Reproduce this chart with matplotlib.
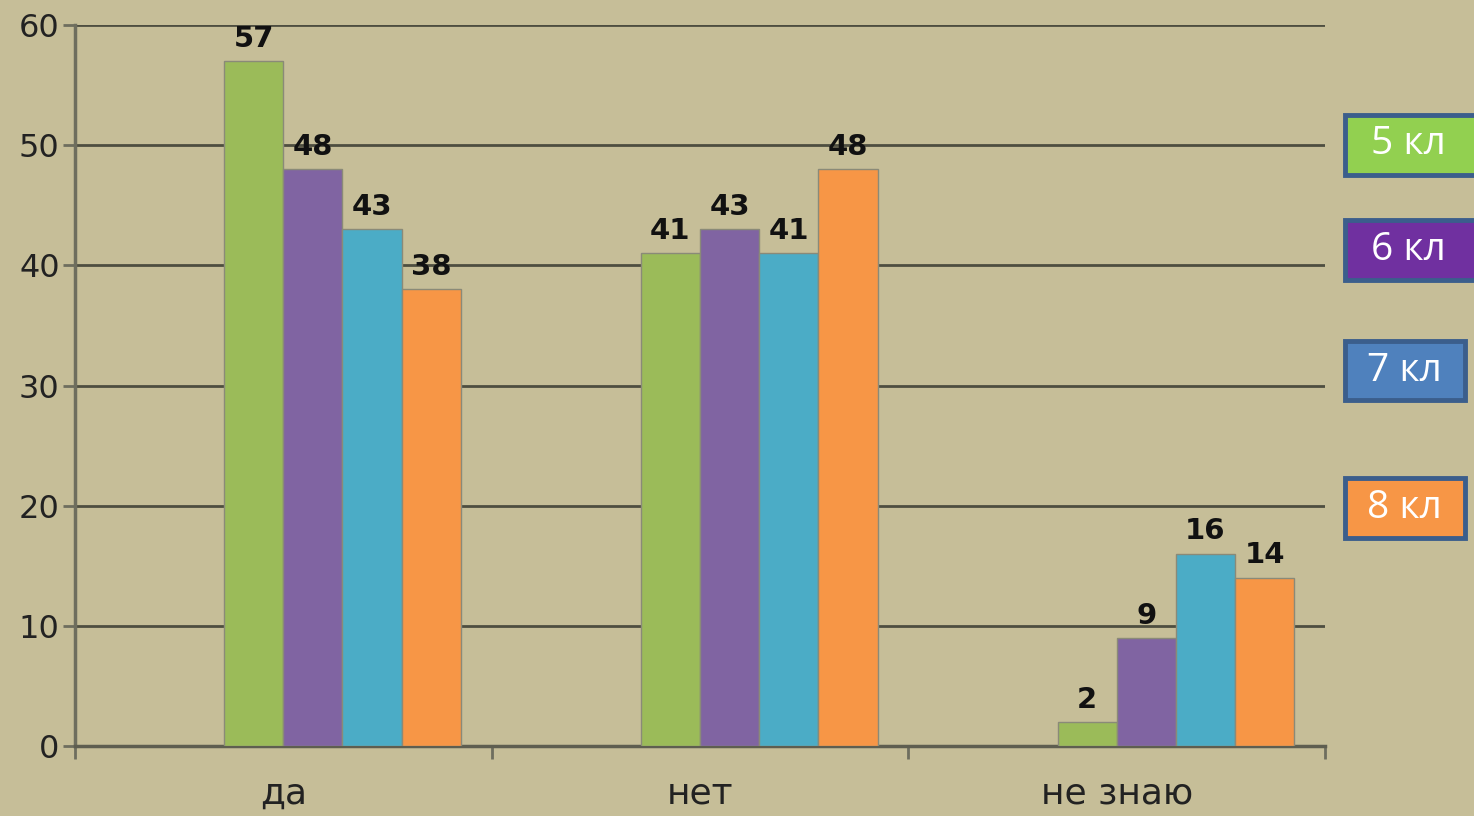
import numpy as np
import matplotlib.pyplot as plt
from matplotlib.patches import Rectangle

categories = ['да', 'нет', 'не знаю']
series_names = ['5 кл', '6 кл', '7 кл', '8 кл']
values_5 = [57, 41, 2]
values_6 = [48, 43, 9]
values_7 = [43, 41, 16]
values_8 = [38, 48, 14]
yticks = [0, 10, 20, 30, 40, 50, 60]

bar_colors = ['#9BBB59', '#8064A2', '#4BACC6', '#F79646']
legend_colors = ['#92D050', '#7030A0', '#4F81BD', '#F79646']
bg = '#C6BE98'

fig = plt.figure(figsize=(14.74, 8.16), dpi=100)
fig.patch.set_facecolor(bg)
ax = fig.add_axes([75 / 1474, 70 / 816, 1250 / 1474, 721 / 816])
ax.set_facecolor(bg)

x = np.arange(len(categories))
w = 0.142
all_values = [values_5, values_6, values_7, values_8]
for i, vals in enumerate(all_values):
    # bars start one bar-width left of the category centre, like the original
    pos = x + (i - 0.5) * w
    bars = ax.bar(pos, vals, width=w, color=bar_colors[i], edgecolor='#8a8a78',
                  linewidth=1, zorder=3)
    for b, v in zip(bars, vals):
        ax.annotate(str(v), (b.get_x() + b.get_width() / 2, v),
                    xytext=(0, 6), textcoords='offset points', ha='center',
                    va='bottom', fontsize=21, fontweight='bold', color='#111111',
                    zorder=4)

ax.set_xlim(-0.5, 2.5)
ax.set_ylim(0, 60)
ax.set_yticks(yticks)
ax.yaxis.grid(True, color='#4e4e40', linewidth=2)
ax.set_axisbelow(True)

ax.set_xticks(x)
ax.set_xticklabels(categories, fontsize=26, color='#222222')
ax.set_xticks([-0.5, 0.5, 1.5, 2.5], minor=True)
ax.tick_params(axis='x', which='major', length=0, pad=22)
ax.tick_params(axis='x', which='minor', length=9, width=2, color='#6e6e5e')
ax.tick_params(axis='y', length=9, width=2, color='#6e6e5e', labelsize=23,
               labelcolor='#222222', pad=2)

for s in ['top', 'right']:
    ax.spines[s].set_visible(False)
ax.spines['left'].set_color('#6e6e5e')
ax.spines['left'].set_linewidth(2.5)
ax.spines['bottom'].set_color('#5e5e50')
ax.spines['bottom'].set_linewidth(2.5)

# legend boxes on the right
boxes = [(1344.5, 114.5, 140), (1344.5, 219.5, 140), (1344.5, 340.5, 120), (1344.5, 477.5, 120)]
for (bx, by, bw), name, col in zip(boxes, series_names, legend_colors):
    bh = 60
    r = Rectangle((bx / 1474, 1 - (by + bh) / 816), bw / 1474, bh / 816,
                  transform=fig.transFigure, facecolor=col, edgecolor='#3B5E8C',
                  linewidth=3.5, zorder=5)
    fig.patches.append(r)
    tx = (bx + min(bw, 128) / 2) / 1474
    fig.text(tx, 1 - (by + bh / 2) / 816, name, color='white', fontsize=28,
             family='Open Sans', ha='center', va='center', zorder=6)

fig.savefig('out.png', dpi=100, facecolor=bg)
